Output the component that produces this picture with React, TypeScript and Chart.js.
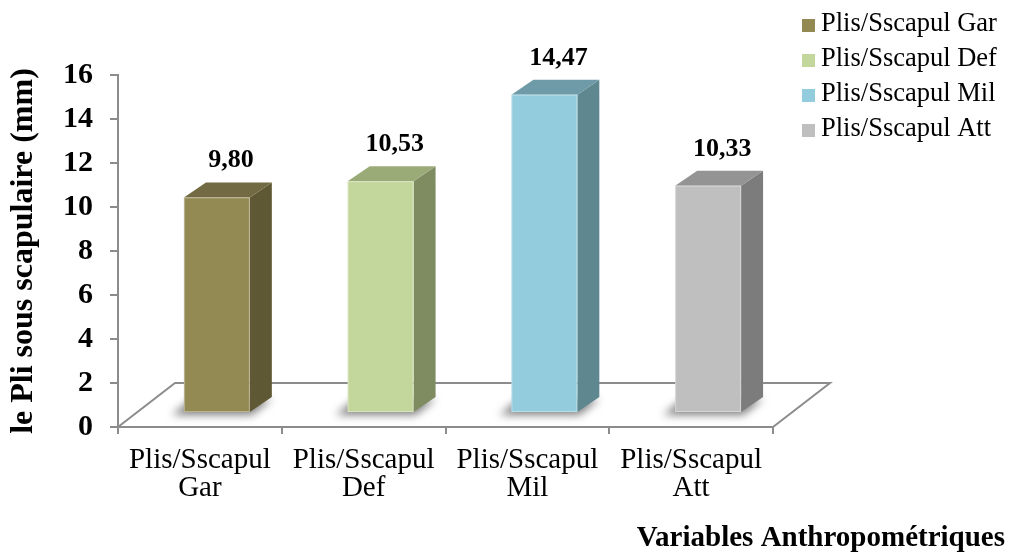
import { useEffect, useRef } from 'react';
import { Chart, registerables } from 'chart.js';

Chart.register(...registerables);

// ---- data ----
const categories: string[][] = [
  ['Plis/Sscapul', 'Gar'],
  ['Plis/Sscapul', 'Def'],
  ['Plis/Sscapul', 'Mil'],
  ['Plis/Sscapul', 'Att'],
];
const seriesNames: string[] = ['Plis/Sscapul Gar', 'Plis/Sscapul Def', 'Plis/Sscapul Mil', 'Plis/Sscapul Att'];
const values: number[] = [9.8, 10.53, 14.47, 10.33];
const valueLabels: string[] = ['9,80', '10,53', '14,47', '10,33'];
const yMin = 0;
const yMax = 16;
const yStep = 2;
const yTitle = 'le Pli sous scapulaire (mm)';
const xTitle = 'Variables Anthropométriques';

// ---- styles ----
const frontColors = ['#938953', '#c3d69b', '#93cddd', '#bfbfbf'];
const sideColors = ['#5f5834', '#7f8c62', '#5f878f', '#7c7c7c'];
const topColors = ['#726a42', '#9bab78', '#6e9ba7', '#949494'];
const AXIS = '#8c8c8c';
const FONT = "'Times New Roman', 'Liberation Serif', serif";

const FLOOR_DX = 57;
const FLOOR_DY = 44;
const FRONT_DX = 17;
const FRONT_DY = 14;
const DEPTH_DX = 22;
const DEPTH_DY = 15;

function poly(ctx: CanvasRenderingContext2D, pts: number[][], fill: string) {
  ctx.beginPath();
  ctx.moveTo(pts[0][0], pts[0][1]);
  for (let i = 1; i < pts.length; i++) ctx.lineTo(pts[i][0], pts[i][1]);
  ctx.closePath();
  ctx.fillStyle = fill;
  ctx.fill();
}

const threeD = {
  id: 'threeD',
  beforeDatasetsDraw(chart: any) {
    const { ctx, chartArea } = chart;
    const { left, right, bottom } = chartArea;
    ctx.save();
    // floor
    ctx.strokeStyle = AXIS;
    ctx.lineWidth = 2;
    ctx.beginPath();
    ctx.moveTo(left, bottom);
    ctx.lineTo(left + FLOOR_DX, bottom - FLOOR_DY);
    ctx.lineTo(right + FLOOR_DX, bottom - FLOOR_DY);
    ctx.lineTo(right, bottom);
    ctx.stroke();

    const meta = chart.getDatasetMeta(0);
    meta.data.forEach((el: any, i: number) => {
      const w = el.width;
      const L = el.x - w / 2 + FRONT_DX;
      const R = L + w;
      const T = el.y - FRONT_DY;
      const B = el.base - FRONT_DY;
      // shadow
      ctx.save();
      ctx.filter = 'blur(4px)';
      poly(ctx, [[L - 12, B + 3], [R + 2, B + 3], [R + DEPTH_DX, B - DEPTH_DY + 2], [L + 8, B - DEPTH_DY + 2]], 'rgba(0,0,0,0.5)');
      ctx.restore();
      // side
      poly(ctx, [[R, T], [R + DEPTH_DX, T - DEPTH_DY], [R + DEPTH_DX, B - DEPTH_DY], [R, B]], sideColors[i]);
      // top
      poly(ctx, [[L, T], [L + DEPTH_DX, T - DEPTH_DY], [R + DEPTH_DX, T - DEPTH_DY], [R, T]], topColors[i]);
      // front
      poly(ctx, [[L, T], [R, T], [R, B], [L, B]], frontColors[i]);
      ctx.strokeStyle = 'rgba(255,255,255,0.35)';
      ctx.lineWidth = 1;
      ctx.strokeRect(L + 0.5, T + 0.5, w - 1, B - T - 1);
      // label
      ctx.fillStyle = '#000';
      ctx.font = `bold 26px ${FONT}`;
      ctx.textAlign = 'center';
      ctx.textBaseline = 'alphabetic';
      ctx.fillText(valueLabels[i], (L + R + DEPTH_DX) / 2 + 3, T - 30);
    });
    ctx.restore();
    return false;
  },
  afterDraw(chart: any) {
    const { ctx, chartArea, width } = chart;
    ctx.save();
    // legend
    const lx = chartArea.right + 29;
    ctx.font = `26.5px ${FONT}`;
    ctx.textAlign = 'left';
    ctx.textBaseline = 'alphabetic';
    seriesNames.forEach((name, i) => {
      const y = 19 + 35 * i;
      ctx.fillStyle = frontColors[i];
      ctx.fillRect(lx, y, 13, 13);
      ctx.fillStyle = '#000';
      ctx.fillText(name, lx + 19, y + 12);
    });
    // x title
    ctx.font = `bold 29px ${FONT}`;
    ctx.textAlign = 'right';
    ctx.fillStyle = '#000';
    ctx.fillText(xTitle, width - 4, 546);
    ctx.restore();
  },
};

export default function App() {
  const ref = useRef<HTMLCanvasElement>(null);
  useEffect(() => {
    const canvas = ref.current!;
    const chart = new Chart(canvas, {
      type: 'bar',
      data: {
        labels: categories,
        datasets: [
          {
            label: yTitle,
            data: values,
            backgroundColor: frontColors,
            barPercentage: 0.5,
            categoryPercentage: 0.805,
          },
        ],
      },
      options: {
        responsive: false,
        animation: false,
        layout: { padding: { left: 0, top: 75, right: 236, bottom: 0 } },
        plugins: {
          legend: { display: false },
          tooltip: { enabled: false },
          title: { display: false },
        },
        scales: {
          x: {
            grid: { display: true, drawOnChartArea: false, offset: true, tickLength: 7, color: AXIS, lineWidth: 2 },
            border: { color: AXIS, width: 2 },
            ticks: {
              color: '#000',
              font: { family: FONT, size: 29, lineHeight: 0.97 },
              padding: 12,
              maxRotation: 0,
              autoSkip: false,
            },
            afterFit: (s: any) => {
              s.height = 126;
            },
          },
          y: {
            min: yMin,
            max: yMax,
            ticks: {
              stepSize: yStep,
              color: '#000',
              font: { family: FONT, size: 30, weight: 'bold' },
              padding: 17,
            },
            grid: { drawOnChartArea: false, tickLength: 8, color: AXIS, lineWidth: 2 },
            border: { color: AXIS, width: 2 },
            title: {
              display: true,
              text: yTitle,
              color: '#000',
              font: { family: FONT, size: 32, weight: 'bold', lineHeight: 1 },
              padding: { top: 8, bottom: 0 },
            },
            afterFit: (s: any) => {
              s.width = 118;
            },
          },
        },
      } as any,
      plugins: [threeD],
    });
    return () => chart.destroy();
  }, []);
  return (
    <canvas
      ref={ref}
      width={1009}
      height={553}
      style={{ position: 'absolute', left: 0, top: 0, width: 1009, height: 553 }}
    />
  );
}
